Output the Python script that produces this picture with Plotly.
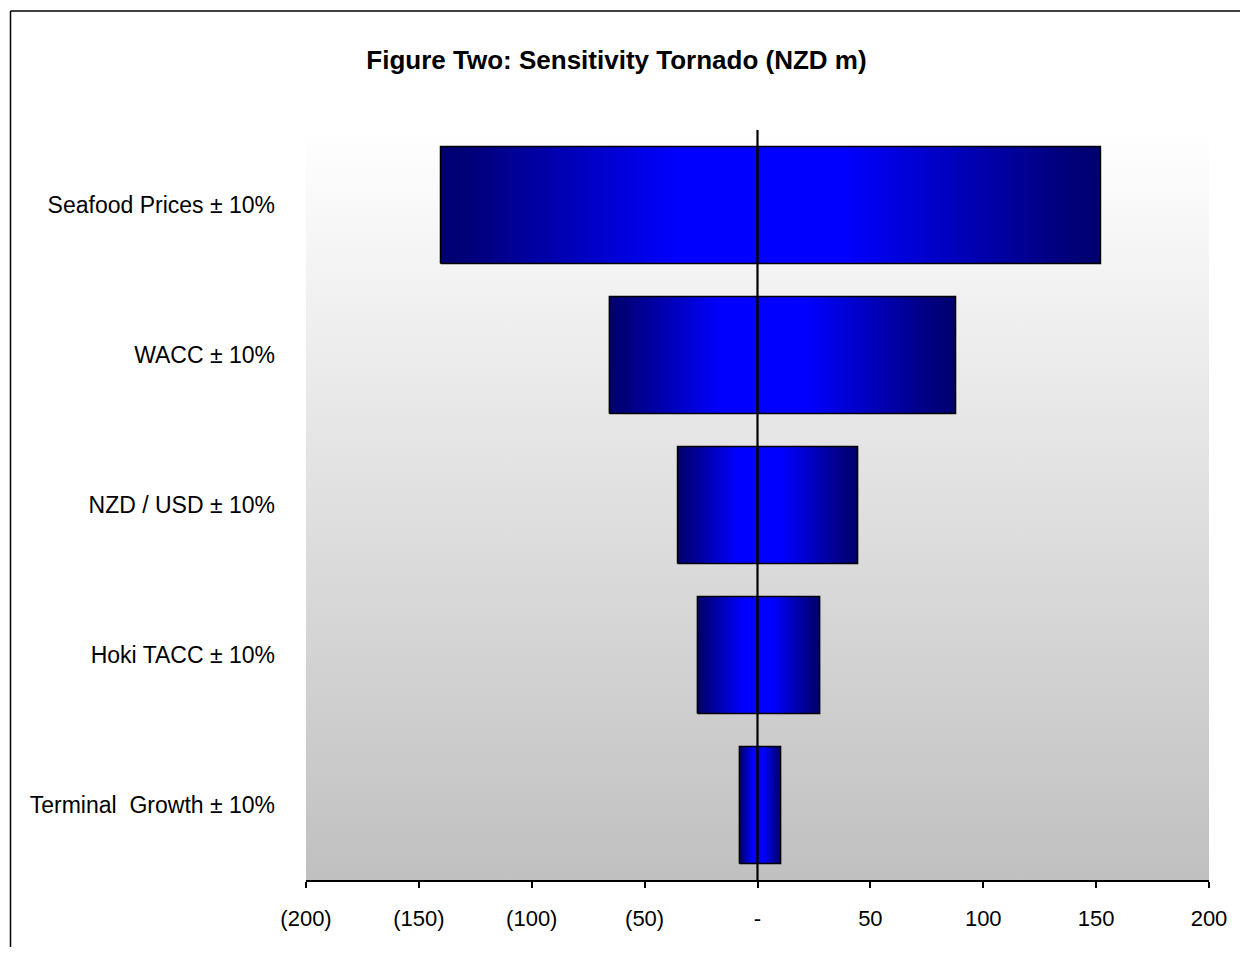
import plotly.graph_objects as go

# ---- data ----
categories = ["Seafood Prices ± 10%", "WACC ± 10%", "NZD / USD ± 10%",
              "Hoki TACC ± 10%", "Terminal  Growth ± 10%"]
downside = [-140.4, -65.6, -35.4, -26.6, -8.0]
upside = [151.9, 87.7, 44.3, 27.5, 10.2]
x_tickvals = [-200, -150, -100, -50, 0, 50, 100, 150, 200]
x_ticktext = ["(200)", "(150)", "(100)", "(50)", "-", "50", "100", "150", "200"]
title_text = "Figure Two: Sensitivity Tornado (NZD m)"

FONT = "Liberation Sans, Arial, sans-serif"
n = len(categories)
ypos = [n - 1 - i for i in range(n)]
half_h = 0.39

DARK = "#000070"
BRIGHT = "#0000ff"

# page offset (browser body margin) is 8px
OFF = 8
W, H = 1232, 939
ML, MT = 306 - OFF, 130 - OFF
MR = (W + OFF) - 1209
MB = (H + OFF) - 880

fig = go.Figure()

# plot-area background gradient (white top -> grey bottom)
fig.add_trace(go.Scatter(
    x=[-200, 200, 200, -200, -200], y=[-0.5, -0.5, n - 0.5, n - 0.5, -0.5],
    mode="lines", line=dict(width=0), fill="toself",
    fillgradient=dict(type="vertical", start=-0.5, stop=n - 0.5,
                      colorscale=[[0, "#c0c0c0"], [1, "#ffffff"]]),
    hoverinfo="skip", showlegend=False))

for i in range(n):
    y0, y1 = ypos[i] - half_h, ypos[i] + half_h
    lo, hi = downside[i], upside[i]
    # left half
    fig.add_trace(go.Scatter(
        x=[lo, 0, 0, lo, lo], y=[y0, y0, y1, y1, y0],
        mode="lines", line=dict(color="black", width=1.6), fill="toself",
        fillgradient=dict(type="horizontal", start=lo, stop=0,
                          colorscale=[[0, DARK], [0.1, "#00007a"], [0.75, BRIGHT], [1, BRIGHT]]),
        hoverinfo="skip", showlegend=False))
    # right half
    fig.add_trace(go.Scatter(
        x=[0, hi, hi, 0, 0], y=[y0, y0, y1, y1, y0],
        mode="lines", line=dict(color="black", width=1.6), fill="toself",
        fillgradient=dict(type="horizontal", start=0, stop=hi,
                          colorscale=[[0, BRIGHT], [0.25, BRIGHT], [0.9, "#00007a"], [1, DARK]]),
        hoverinfo="skip", showlegend=False))

fig.update_xaxes(
    range=[-200, 200], tickvals=x_tickvals, ticktext=x_ticktext,
    showline=True, linecolor="black", linewidth=1.5,
    ticks="outside", ticklen=6, tickwidth=1.5, tickcolor="black",
    showgrid=False, zeroline=False,
    layer="above traces", ticklabelstandoff=12,
    tickfont=dict(family=FONT, size=22, color="black"),
    fixedrange=True)
fig.update_yaxes(
    range=[-0.5, n - 0.5], tickvals=ypos, ticktext=categories,
    showline=False, showgrid=False, zeroline=False, ticks="",
    ticklabelstandoff=30, tickfont=dict(family=FONT, size=23, color="black"),
    fixedrange=True)

# vertical zero line on top of the bars
fig.add_shape(type="line", xref="x", yref="paper", x0=0, x1=0, y0=0, y1=1,
              layer="above", line=dict(color="black", width=2.2))

# outer frame (left and top edges visible)
PW, PH = 1209 - 306, 880 - 130
fx = (10.5 - 306) / PW
fy = 1 + (130 - 11) / PH
fig.add_shape(type="line", xref="paper", yref="paper",
              x0=fx, x1=1.2, y0=fy, y1=fy, line=dict(color="black", width=1.5))
fig.add_shape(type="line", xref="paper", yref="paper",
              x0=fx, x1=fx, y0=fy, y1=-0.3, line=dict(color="black", width=1.5))

fig.update_layout(
    width=W, height=H, autosize=False,
    margin=dict(l=ML, r=MR, t=MT, b=MB, pad=0),
    paper_bgcolor="white", plot_bgcolor="white",
    title=dict(text="<b>" + title_text + "</b>", font=dict(family=FONT, size=26, color="black"),
               x=(616.5 - OFF) / W, xanchor="center", xref="container",
               y=1 - (60 - OFF) / H, yanchor="middle", yref="container"),
    showlegend=False,
)

fig.write_html("out.html")
